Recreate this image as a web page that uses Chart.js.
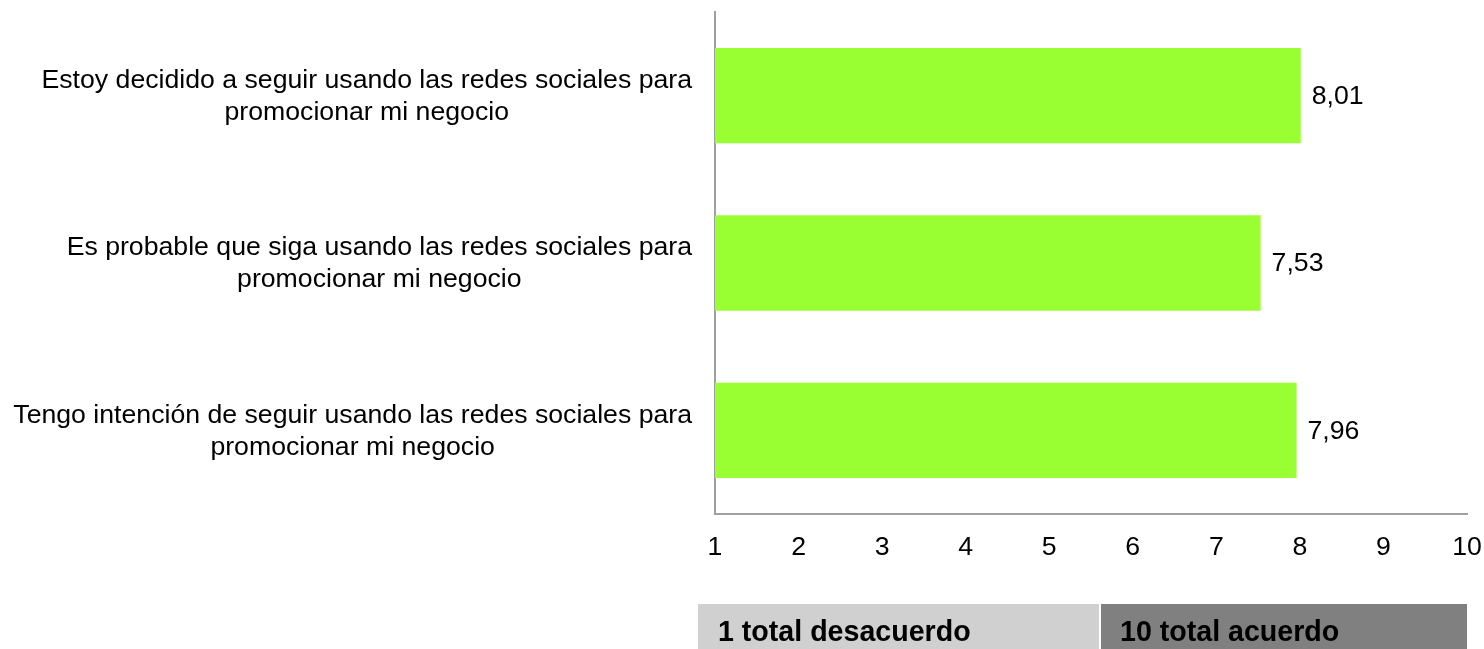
<!DOCTYPE html>
<html>
<head>
<meta charset="utf-8">
<script src="https://cdn.jsdelivr.net/npm/chart.js@4/dist/chart.umd.min.js"></script>
<style>
  html, body { margin: 0; padding: 0; background: #ffffff; }
  #wrap { position: relative; width: 1484px; height: 649px; }
</style>
</head>
<body>
<div id="wrap"><canvas id="c" width="1484" height="649"></canvas></div>
<script>
const categories = [
  ["Estoy decidido a seguir usando las redes sociales para", "promocionar mi negocio"],
  ["Es probable que siga usando las redes sociales para", "promocionar mi negocio"],
  ["Tengo intención de seguir usando las redes sociales para", "promocionar mi negocio"]
];
const values = [8.01, 7.53, 7.96];
const xMin = 1;
const xMax = 10;
const scaleNotes = ["1 total desacuerdo", "10 total acuerdo"];

const FONT = '"Liberation Sans", Arial, sans-serif';
const fmt = v => v.toFixed(2).replace('.', ',');

const customPlugin = {
  id: 'custom',
  afterDraw(chart) {
    const ctx = chart.ctx;
    const yScale = chart.scales.y;
    const xScale = chart.scales.x;
    ctx.save();
    // category labels: block right-aligned, lines centered inside block
    ctx.font = '26.67px ' + FONT;
    ctx.fillStyle = '#000000';
    ctx.textBaseline = 'middle';
    ctx.textAlign = 'center';
    const rightEdge = yScale.right - 23;
    const lh = 32;
    categories.forEach((lines, i) => {
      const y = yScale.getPixelForTick(i);
      const w = Math.max(...lines.map(l => ctx.measureText(l).width));
      const cx = rightEdge - w / 2;
      lines.forEach((l, j) => {
        ctx.fillText(l, cx, y + (j - (lines.length - 1) / 2) * lh + 1);
      });
    });
    // value labels
    const meta = chart.getDatasetMeta(0);
    ctx.textAlign = 'left';
    meta.data.forEach((bar, i) => {
      ctx.fillText(fmt(values[i]), bar.x + 11, bar.y + 1);
    });
    // scale notes boxes
    const top = 604, bottom = 649;
    const splitX = 1100;
    ctx.fillStyle = '#d0d0d0';
    ctx.fillRect(698, top, splitX - 698 - 1, bottom - top);
    ctx.fillStyle = '#808080';
    ctx.fillRect(splitX + 1, top, xScale.right - splitX - 1, bottom - top);
    ctx.fillStyle = '#000000';
    ctx.font = 'bold 28.6px ' + FONT;
    ctx.textBaseline = 'alphabetic';
    ctx.fillText(scaleNotes[0], 718, 641);
    ctx.fillText(scaleNotes[1], 1120, 641);
    ctx.restore();
  }
};

new Chart(document.getElementById('c'), {
  type: 'bar',
  data: {
    labels: categories,
    datasets: [{
      data: values,
      backgroundColor: '#99ff33',
      borderWidth: 0,
      barPercentage: 0.57,
      categoryPercentage: 1.0
    }]
  },
  options: {
    indexAxis: 'y',
    responsive: false,
    animation: false,
    layout: { padding: { top: 12, right: 17, bottom: 0, left: 0 } },
    plugins: { legend: { display: false }, tooltip: { enabled: false } },
    scales: {
      x: {
        min: xMin,
        max: xMax,
        ticks: {
          stepSize: 1,
          color: '#000000',
          font: { family: FONT, size: 26.67 },
          padding: 18,
          maxRotation: 0
        },
        grid: { display: false, drawTicks: false },
        border: { display: true, color: '#a0a0a0', width: 2 },
        afterFit(scale) {
          scale.height = 135;
          scale.paddingRight = 0;
          scale.paddingLeft = 0;
        }
      },
      y: {
        ticks: { display: false },
        grid: { display: false, drawTicks: false },
        border: { display: true, color: '#a0a0a0', width: 2 },
        afterFit(scale) {
          scale.width = 715;
          scale.paddingTop = 0;
          scale.paddingBottom = 0;
        }
      }
    }
  },
  plugins: [customPlugin]
});
</script>
</body>
</html>
